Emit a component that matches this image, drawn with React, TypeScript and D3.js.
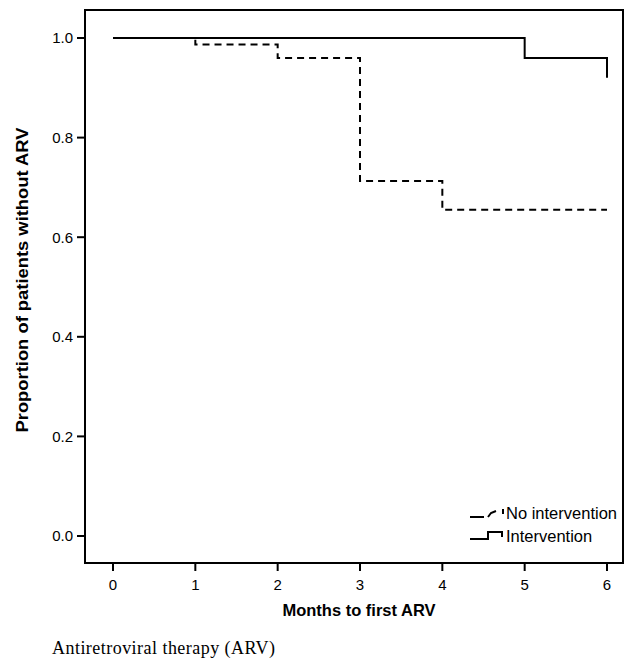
import React from "react";
import * as d3 from "d3";

const months = [0, 1, 2, 3, 4, 5, 6];
const yTicks = [0.0, 0.2, 0.4, 0.6, 0.8, 1.0];
const noInterventionT = [0, 1, 2, 3, 4, 6];
const noInterventionS = [1.0, 0.987, 0.96, 0.713, 0.655, 0.655];
const interventionT = [0, 5, 6];
const interventionS = [1.0, 0.96, 0.92];

const W = 635, H = 661;
const L = 85, R = 623, T = 10, B = 563;

export default function App() {
  const x = d3.scaleLinear().domain([0, 6]).range([113, 607]);
  const y = d3.scaleLinear().domain([0, 1]).range([536, 38]);

  const stepPath = (ts: number[], ss: number[], dropAtEnd: boolean) => {
    const pts: [number, number][] = [];
    for (let i = 0; i < ts.length; i++) {
      if (i > 0) pts.push([ts[i], ss[i - 1]]);
      if (i < ts.length - 1 || dropAtEnd) pts.push([ts[i], ss[i]]);
    }
    return d3.line<[number, number]>().x(d => x(d[0])).y(d => y(d[1]))(pts) || "";
  };

  const font = "Arial, 'Liberation Sans', sans-serif";
  return (
    <svg width={W} height={H} style={{ position: "absolute", left: 0, top: 0 }}>
      <rect x={0} y={0} width={W} height={H} fill="#fff" />
      <rect x={L} y={T} width={R - L} height={B - T} fill="none" stroke="#000" strokeWidth={2} />
      {yTicks.map(v => (
        <g key={v}>
          <line x1={77} x2={L} y1={y(v)} y2={y(v)} stroke="#000" strokeWidth={2} />
          <text x={73} y={y(v)} dy="0.36em" textAnchor="end" fontFamily={font} fontSize={15}>{v.toFixed(1)}</text>
        </g>
      ))}
      {months.map(m => (
        <g key={m}>
          <line x1={x(m)} x2={x(m)} y1={B} y2={571} stroke="#000" strokeWidth={2} />
          <text x={x(m)} y={590} textAnchor="middle" fontFamily={font} fontSize={15}>{m}</text>
        </g>
      ))}
      <path d={stepPath(noInterventionT, noInterventionS, false)} fill="none" stroke="#000" strokeWidth={2} strokeDasharray="7,5" />
      <path d={stepPath(interventionT, interventionS, true)} fill="none" stroke="#000" strokeWidth={2} />
      <text transform={`translate(28,280) rotate(-90)`} textAnchor="middle" fontFamily={font} fontSize={17} fontWeight="bold" textLength={305} lengthAdjust="spacingAndGlyphs">Proportion of patients without ARV</text>
      <text x={359} y={616} textAnchor="middle" fontFamily={font} fontSize={16.5} fontWeight="bold">Months to first ARV</text>
      <path d="M470,517 L484,517 M488,517 L491,513 L496,511 M503,509 L503,514" fill="none" stroke="#000" strokeWidth={2} />
      <text x={506} y={519} fontFamily={font} fontSize={16.5}>No intervention</text>
      <path d="M470,539 L488,539 L488,532 L502,532 L502,537" fill="none" stroke="#000" strokeWidth={2} />
      <text x={506} y={542} fontFamily={font} fontSize={16.5}>Intervention</text>
      <text x={52} y={654} fontFamily="'Times New Roman', 'Liberation Serif', serif" fontSize={18} textLength={223} lengthAdjust="spacing">Antiretroviral therapy (ARV)</text>
    </svg>
  );
}
